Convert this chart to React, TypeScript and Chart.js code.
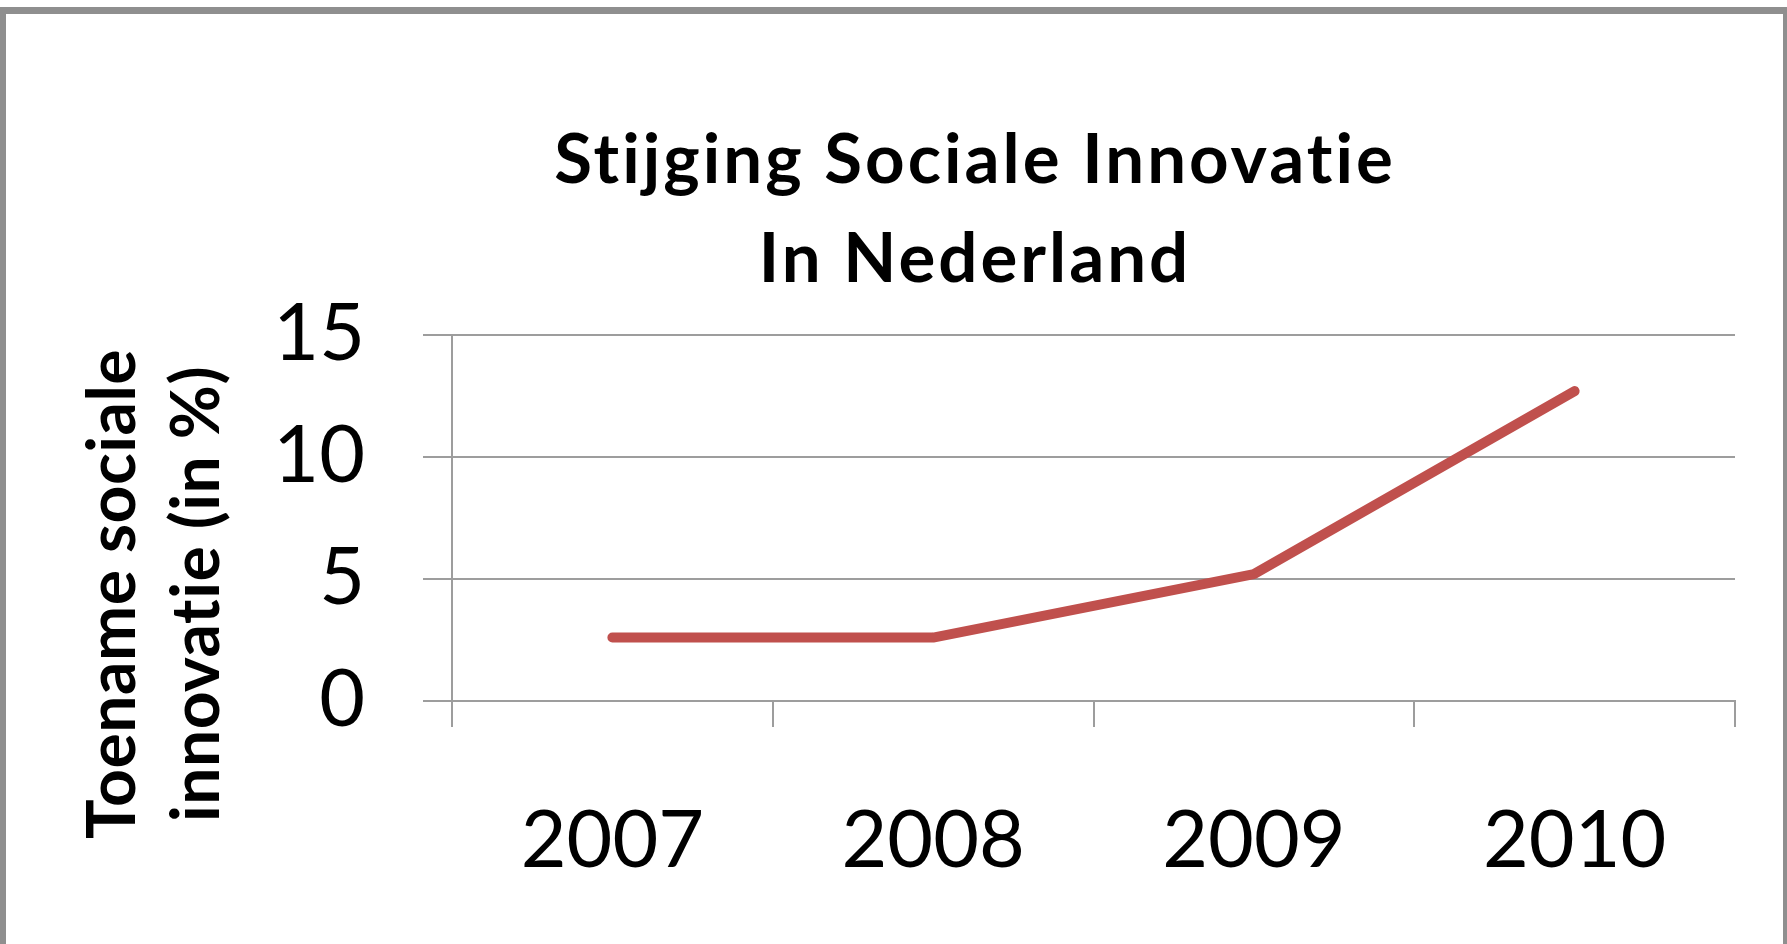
import React, { useEffect, useRef } from 'react';
import { Chart, registerables } from 'chart.js';

Chart.register(...registerables);

const categories = ['2007', '2008', '2009', '2010'];
const values = [2.6, 2.6, 5.2, 12.7];
const yTicks = [0, 5, 10, 15];
const titleLines = ['Stijging Sociale Innovatie', 'In Nederland'];
const yTitleLines = ['Toename sociale', 'innovatie (in %)'];
const seriesName = 'Toename sociale innovatie';

const FONT = 'Lato, "Open Sans", sans-serif';
const GRID = '#9d9d9d';

const textPlugin = {
  id: 'customTexts',
  afterDraw(chart: any) {
    const { ctx, chartArea } = chart;
    ctx.save();
    ctx.fillStyle = '#000';

    // Chart title (layout space reserved by the built-in title block)
    const tb = chart.titleBlock;
    const cx = tb ? (tb.left + tb.right) / 2 : chart.width / 2;
    const top = tb ? tb.top : 108;
    ctx.font = `bold 69px ${FONT}`;
    ctx.textAlign = 'center';
    ctx.textBaseline = 'alphabetic';
    (ctx as any).letterSpacing = '3px';
    ctx.fillText(titleLines[0], cx, top + 75);
    ctx.fillText(titleLines[1], cx, top + 174);

    // Rotated y-axis title
    (ctx as any).letterSpacing = '0.5px';
    ctx.font = `bold 66px ${FONT}`;
    const cy = chartArea.bottom - 107;
    const xs = [chartArea.left - 317, chartArea.left - 233];
    yTitleLines.forEach((t, i) => {
      ctx.save();
      ctx.translate(xs[i], cy);
      ctx.rotate(-Math.PI / 2);
      ctx.fillText(t, 0, 0);
      ctx.restore();
    });
    ctx.restore();
  },
};

export default function App() {
  const ref = useRef<HTMLCanvasElement | null>(null);

  useEffect(() => {
    if (!ref.current) return;
    const chart = new Chart(ref.current, {
      type: 'line',
      data: {
        labels: categories,
        datasets: [
          {
            label: seriesName,
            data: values,
            borderColor: '#C0504D',
            backgroundColor: '#C0504D',
            borderWidth: 10,
            pointRadius: 0,
            tension: 0,
            fill: false,
            borderCapStyle: 'round',
            borderJoinStyle: 'round',
          },
        ],
      },
      options: {
        animation: false,
        responsive: false,
        devicePixelRatio: 1,
        layout: { padding: { left: 215, right: 52, top: 108, bottom: 0 } },
        plugins: {
          legend: { display: false },
          tooltip: { enabled: false },
          title: {
            display: true,
            text: titleLines,
            color: 'rgba(0,0,0,0)',
            font: { family: FONT, size: 69, weight: 'bold', lineHeight: 99 / 69 },
            padding: { top: 0, bottom: 29 },
          },
        },
        scales: {
          x: {
            type: 'category',
            offset: true,
            grid: {
              display: true,
              drawOnChartArea: false,
              drawTicks: true,
              tickLength: 26,
              offset: true,
              color: GRID,
              lineWidth: 2,
            },
            border: { display: true, color: GRID, width: 2 },
            ticks: {
              font: { family: FONT, size: 79 },
              color: '#000',
              padding: 67,
              maxRotation: 0,
              autoSkip: false,
            },
            afterFit: (s: any) => {
              s.height = 243;
            },
          },
          y: {
            min: 0,
            max: 15,
            afterBuildTicks: (s: any) => {
              s.ticks = yTicks.map((v) => ({ value: v }));
            },
            ticks: {
              font: { family: FONT, size: 79 },
              color: '#000',
              padding: 58,
            },
            grid: {
              drawTicks: true,
              tickLength: 29,
              color: GRID,
              lineWidth: 2,
            },
            border: { display: true, color: GRID, width: 2 },
            afterFit: (s: any) => {
              s.width = 237;
            },
          },
        },
      },
      plugins: [textPlugin],
    } as any);
    return () => chart.destroy();
  }, []);

  return (
    <div style={{ position: 'absolute', left: 0, top: 0, width: 1787, height: 944, background: '#fff', overflow: 'hidden' }}>
      <div
        style={{
          position: 'absolute',
          left: 0,
          top: 7,
          width: 1787,
          height: 937,
          boxSizing: 'border-box',
          borderLeft: '6px solid #8f8f8f',
          borderTop: '7px solid #8f8f8f',
          borderRight: '4px solid #8f8f8f',
        }}
      />
      <canvas ref={ref} width={1787} height={944} style={{ position: 'absolute', left: 0, top: 0, width: 1787, height: 944 }} />
    </div>
  );
}
